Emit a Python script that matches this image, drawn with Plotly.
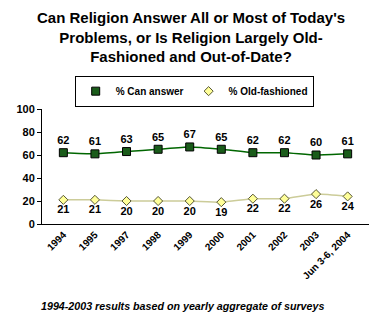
import plotly.graph_objects as go

categories = ["1994", "1995", "1997", "1998", "1999", "2000", "2001", "2002", "2003", "Jun 3-6, 2004"]
can_answer = [62, 61, 63, 65, 67, 65, 62, 62, 60, 61]
old_fashioned = [21, 21, 20, 20, 20, 19, 22, 22, 26, 24]

FONT = "Liberation Sans, Arial, sans-serif"

can_marker = dict(symbol="square", size=8, color="#1a5c1a", line=dict(color="#000000", width=1))
old_marker = dict(symbol="diamond", size=7, color="#ffff99", line=dict(color="#555533", width=1))

fig = go.Figure()
fig.add_trace(go.Scatter(
    x=categories, y=can_answer, name="% Can answer", showlegend=False,
    mode="lines+markers+text",
    line=dict(color="#006600", width=1.5, shape="spline", smoothing=0.5),
    marker=can_marker,
    text=[str(v) for v in can_answer], textposition="top center",
    textfont=dict(family=FONT, size=11, color="#000000", weight="bold"),
))
fig.add_trace(go.Scatter(
    x=categories, y=old_fashioned, name="% Old-fashioned", showlegend=False,
    mode="lines+markers+text",
    line=dict(color="#cccc99", width=1.5, shape="spline", smoothing=0.5),
    marker=old_marker,
    text=[str(v) for v in old_fashioned], textposition="bottom center",
    textfont=dict(family=FONT, size=11, color="#000000", weight="bold"),
))
# legend entries (marker only, as in the reference)
fig.add_trace(go.Scatter(x=[None], y=[None], name="% Can answer", mode="markers", marker=can_marker))
fig.add_trace(go.Scatter(x=[None], y=[None], name="% Old-fashioned", mode="markers", marker=old_marker))

fig.update_layout(
    width=370, height=324,
    margin=dict(l=42, r=1, t=109, b=100),
    paper_bgcolor="white", plot_bgcolor="white",
    font=dict(family=FONT, size=10, color="#000000"),
    showlegend=True,
    legend=dict(
        orientation="h", x=0.1, xanchor="left", y=1.29, yanchor="top",
        bgcolor="white", bordercolor="#000000", borderwidth=1,
        font=dict(family=FONT, size=10, color="#000000", weight="bold"),
        itemwidth=30, tracegroupgap=0,
    ),
    xaxis=dict(
        type="category", tickangle=-45, showgrid=False, showline=True,
        linecolor="#000000", linewidth=1, ticks="",
        tickfont=dict(family=FONT, size=10, color="#000000", weight="bold"),
    ),
    yaxis=dict(
        range=[0, 100], tickvals=[0, 20, 40, 60, 80, 100], showgrid=False,
        showline=True, linecolor="#000000", linewidth=1, ticks="outside",
        ticklen=4, tickcolor="#000000", zeroline=False,
        tickfont=dict(family=FONT, size=11, color="#000000", weight="bold"),
    ),
)

fig.add_annotation(
    text="<b>Can Religion Answer All or Most of Today's<br>Problems, or Is Religion Largely Old-<br>Fashioned and Out-of-Date?</b>",
    xref="paper", yref="paper", x=0.456, y=1.885, xanchor="center", yanchor="top",
    showarrow=False, font=dict(family=FONT, size=15, color="#000000"),
)

fig.add_annotation(
    text="<b><i>1994-2003 results based on yearly aggregate of surveys</i></b>",
    xref="paper", yref="paper", x=-0.01, y=-0.715, xanchor="left", yanchor="middle",
    showarrow=False, font=dict(family=FONT, size=10.7, color="#000000"),
)

fig.write_html("out.html")
